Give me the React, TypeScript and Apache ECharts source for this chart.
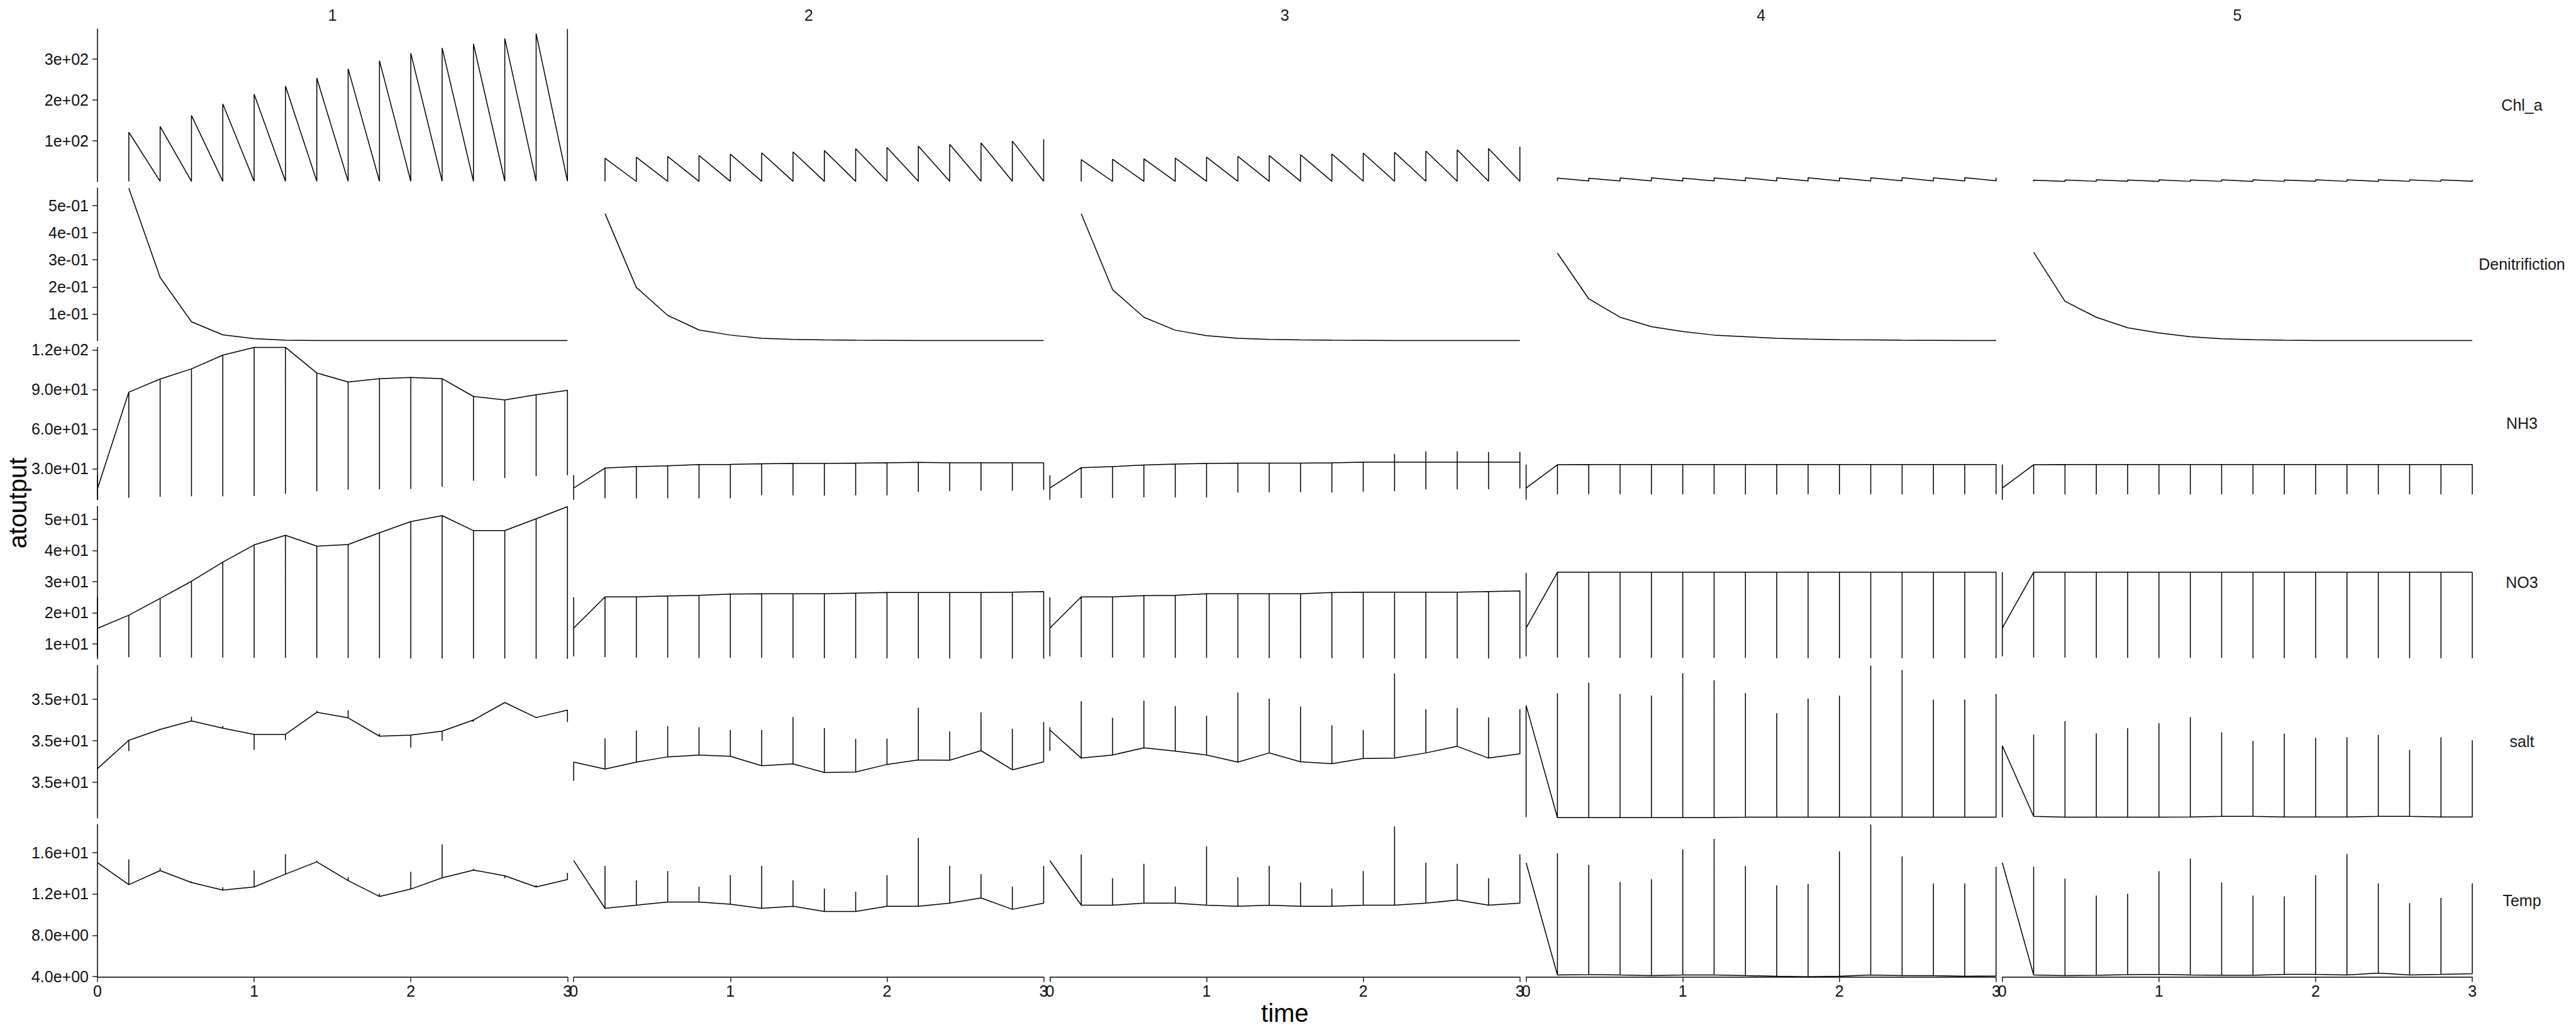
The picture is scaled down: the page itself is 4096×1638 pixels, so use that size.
import React, { useEffect, useRef } from "react";
import * as echarts from "echarts";

// ---------------- data ----------------
const TIME = [0, 0.2, 0.4, 0.6, 0.8, 1, 1.2, 1.4, 1.6, 1.8, 2, 2.2, 2.4, 2.6, 2.8, 3];
const POLYGONS = ["1", "2", "3", "4", "5"];
const VARIABLES = ["Chl_a", "Denitrifiction", "NH3", "NO3", "salt", "Temp"];

// Chl_a: at each time the line goes from the low layer value up to the high one
const CHL_HIGH = [
  [null, 121, 135, 162, 190, 214, 234, 253, 276, 296, 314, 327, 337, 350, 362, 373],
  [null, 57.3, 59.9, 61.7, 64.2, 67.5, 70.8, 73.0, 76.3, 80.7, 83.9, 87.2, 91.6, 94.9, 99.3, 103.6],
  [null, 54, 55, 56, 58, 60, 62, 64, 66, 68, 70, 72, 75, 78, 81, 86],
  [null, 9.0, 8.5, 9.2, 9.5, 9.0, 9.3, 9.6, 9.8, 9.5, 9.2, 9.6, 10.0, 9.7, 10.1, 10.2],
  [null, 4.0, 4.4, 4.5, 4.3, 4.6, 4.4, 4.5, 4.6, 4.4, 4.7, 4.5, 4.6, 4.8, 4.6, 4.7],
];
const CHL_LOW = [
  [null, 0.8, 0.9, 0.9, 1.0, 1.0, 1.0, 1.1, 1.1, 1.1, 1.2, 1.2, 1.2, 1.2, 1.3, 1.3],
  [null, 0.8, 0.8, 0.9, 0.9, 0.9, 1.0, 1.0, 1.0, 1.0, 1.1, 1.1, 1.1, 1.1, 1.2, 1.2],
  [null, 0.8, 0.8, 0.9, 0.9, 0.9, 1.0, 1.0, 1.0, 1.0, 1.1, 1.1, 1.1, 1.1, 1.2, 1.2],
  [null, 2.0, 1.8, 2.1, 2.0, 1.9, 2.0, 2.2, 2.1, 2.0, 1.9, 2.1, 2.2, 2.0, 2.1, 2.2],
  [null, 1.0, 0.9, 1.0, 1.1, 0.9, 1.0, 1.0, 0.9, 1.0, 1.1, 1.0, 0.9, 1.0, 1.0, 1.1],
];

const DEN = [
  [null, 0.565, 0.235, 0.071, 0.023, 0.0088, 0.0033, 0.0017, 0.0017, 0.0017, 0.0017, 0.0017, 0.0017, 0.0017, 0.0017, 0.0017],
  [null, 0.471, 0.198, 0.095, 0.041, 0.022, 0.010, 0.006, 0.004, 0.003, 0.0025, 0.002, 0.002, 0.002, 0.002, 0.002],
  [null, 0.47, 0.19, 0.088, 0.04, 0.02, 0.010, 0.006, 0.004, 0.003, 0.0025, 0.002, 0.002, 0.002, 0.002, 0.002],
  [null, 0.325, 0.156, 0.088, 0.053, 0.035, 0.022, 0.016, 0.010, 0.007, 0.005, 0.004, 0.003, 0.0025, 0.002, 0.002],
  [null, 0.328, 0.147, 0.088, 0.049, 0.030, 0.016, 0.0085, 0.005, 0.003, 0.002, 0.002, 0.002, 0.002, 0.002, 0.002],
];

// for the layered variables: line value, top and bottom of the layer spread (null = same as line)
const NH3_MID = [
  [14.9, 88.0, 97.9, 105.6, 116.0, 121.9, 121.9, 102.5, 95.7, 98.2, 99.1, 98.2, 84.7, 82.1, 86.0, 89.4],
  [15.3, 30.5, 31.6, 32.2, 33.2, 33.3, 33.7, 34.0, 34.0, 34.2, 34.5, 34.8, 34.4, 34.4, 34.5, 34.5],
  [15.3, 30.8, 31.6, 32.8, 33.5, 34.0, 34.2, 34.2, 34.2, 34.5, 34.9, 34.9, 34.9, 34.9, 34.9, 34.9],
  [15.3, 33.0, 33.1, 33.1, 33.1, 33.1, 33.2, 33.2, 33.2, 33.2, 33.2, 33.2, 33.2, 33.2, 33.2, 33.2],
  [15.3, 33.0, 33.1, 33.1, 33.1, 33.1, 33.1, 33.2, 33.2, 33.2, 33.2, 33.2, 33.2, 33.2, 33.2, 33.2],
];
const NH3_MAX = [
  [25, null, null, null, null, null, null, null, null, null, null, null, null, null, null, null],
  [25, null, null, null, null, null, null, null, null, null, null, null, null, null, null, null],
  [25, null, null, null, null, null, null, null, null, null, null, 41.2, 43.1, 43.1, 42.5, 42.5],
  [33.2, null, null, null, null, null, null, null, null, null, null, null, null, null, null, null],
  [33.2, null, null, null, null, null, null, null, null, null, null, null, null, null, null, null],
];
const NH3_MIN = [
  [6.5, 7.9, 8.7, 9.1, 9.1, 9.3, 11.0, 13.0, 14.2, 14.5, 14.7, 16.4, 20.9, 22.9, 24.3, 25.1],
  [6.5, 7.5, 7.5, 7.5, 7.5, 7.6, 9.8, 9.8, 9.6, 9.8, 9.8, 12.5, 13.0, 13.3, 13.3, 13.8],
  [6.5, 7.8, 7.8, 8.3, 8.3, 8.3, 11.9, 12.2, 12.2, 12.0, 12.5, 13.0, 14.3, 14.3, 14.5, 15.0],
  [6.5, 10.6, 10.5, 10.6, 10.4, 10.5, 10.6, 10.5, 10.4, 10.6, 10.5, 10.6, 10.5, 10.4, 10.5, 10.6],
  [6.5, 10.6, 10.5, 10.5, 10.6, 10.4, 10.5, 10.6, 10.5, 10.5, 10.4, 10.6, 10.5, 10.5, 10.6, 10.5],
];

const NO3_MID = [
  [15.0, 19.2, 24.6, 30.1, 36.3, 41.8, 44.9, 41.4, 41.9, 45.7, 49.3, 51.2, 46.4, 46.4, 50.2, 54.1],
  [15.1, 25.1, 25.1, 25.4, 25.6, 26.0, 26.1, 26.1, 26.1, 26.3, 26.5, 26.5, 26.5, 26.5, 26.6, 26.8],
  [15.1, 25.1, 25.1, 25.5, 25.6, 26.1, 26.1, 26.1, 26.1, 26.5, 26.6, 26.6, 26.6, 26.6, 26.8, 27.0],
  [15.1, 33.0, 33.0, 33.0, 33.0, 33.0, 33.0, 33.0, 33.0, 33.0, 33.0, 33.0, 33.0, 33.0, 33.0, 33.0],
  [15.1, 33.0, 33.0, 33.0, 33.0, 33.0, 33.0, 33.0, 33.0, 33.0, 33.0, 33.0, 33.0, 33.0, 33.0, 33.0],
];
const NO3_MAX = [
  [25.0, null, null, null, null, null, null, null, null, null, null, null, null, null, null, null],
  [25.0, null, null, null, null, null, null, null, null, null, null, null, null, null, null, null],
  [25.0, null, null, null, null, null, null, null, null, null, null, null, null, null, null, null],
  [32.8, null, null, null, null, null, null, null, null, null, null, null, null, null, null, null],
  [33.0, null, null, null, null, null, null, null, null, null, null, null, null, null, null, null],
];
const NO3_MIN = [
  [6.0, 5.7, 5.7, 5.6, 5.6, 5.5, 5.5, 5.5, 5.5, 5.4, 5.3, 5.3, 5.3, 5.3, 5.2, 5.2],
  [6.0, 5.7, 5.6, 5.6, 5.5, 5.5, 5.5, 5.5, 5.4, 5.4, 5.4, 5.3, 5.3, 5.3, 5.3, 5.3],
  [6.0, 5.7, 5.6, 5.6, 5.5, 5.5, 5.5, 5.4, 5.4, 5.4, 5.4, 5.3, 5.3, 5.3, 5.3, 5.3],
  [6.0, 5.6, 5.6, 5.5, 5.5, 5.5, 5.5, 5.5, 5.4, 5.4, 5.4, 5.4, 5.4, 5.4, 5.4, 5.4],
  [6.0, 5.6, 5.6, 5.5, 5.5, 5.5, 5.5, 5.5, 5.4, 5.4, 5.4, 5.4, 5.4, 5.4, 5.4, 5.4],
];

const SALT_MID = [
  [34.99729, 35.00003, 35.00108, 35.0019, 35.0012, 35.0006, 35.0006, 35.00274, 35.0022, 35.00043, 35.00053, 35.00092, 35.00199, 35.00368, 35.00223, 35.00295],
  [34.99792, 34.99725, 34.99792, 34.99843, 34.99861, 34.99848, 34.99757, 34.99775, 34.99692, 34.99697, 34.9977, 34.99814, 34.9981, 34.99903, 34.99718, 34.99795],
  [35.00102, 34.99831, 34.99861, 34.9993, 34.99898, 34.99861, 34.99792, 34.99881, 34.99795, 34.99777, 34.99827, 34.99831, 34.99881, 34.99945, 34.99831, 34.99873],
  [35.0034, 34.99256, 34.99256, 34.99256, 34.99256, 34.99256, 34.99256, 34.9926, 34.9926, 34.9926, 34.9926, 34.9926, 34.9926, 34.9926, 34.9926, 34.9926],
  [34.9995, 34.99268, 34.9926, 34.9926, 34.9926, 34.9926, 34.99262, 34.99268, 34.99268, 34.99262, 34.99262, 34.99262, 34.99268, 34.99268, 34.99262, 34.99262],
];
const SALT_MAX = [
  [null, null, 35.00115, 35.00231, 35.00141, null, null, 35.00288, 35.00293, 35.00069, null, null, 35.00205, null, 35.0023, null],
  [null, 35.00022, 35.00097, 35.00141, 35.00129, 35.00102, 35.00102, 35.00228, 35.00122, 35.00015, 35.0002, 35.00318, 35.00089, 35.00274, 35.00114, 35.00179],
  [35.0013, 35.00382, 35.00221, 35.00387, 35.00335, 35.00241, 35.00466, 35.00405, 35.00328, 35.00147, 35.00102, 35.00648, 35.00305, 35.00315, 35.00224, 35.00305],
  [null, 35.0046, 35.00559, 35.00452, 35.00435, 35.00651, 35.00584, 35.0046, 35.00266, 35.00407, 35.00435, 35.00725, 35.00683, 35.00395, 35.00397, 35.00452],
  [null, 35.0006, 35.00189, 35.0007, 35.0012, 35.00167, 35.00226, 35.0008, 34.99998, 35.00067, 35.00028, 35.00033, 35.00055, 34.99911, 35.00033, 35.00003],
];
const SALT_MIN = [
  [null, 34.99899, null, null, null, 34.99911, 35.00007, null, null, null, 34.99932, 34.99997, 35.00185, null, 35.00218, 35.0018],
  [34.99613, null, null, null, null, null, null, null, null, null, null, null, null, null, null, null],
  [34.999, null, null, null, null, null, null, null, null, null, null, null, null, null, null, null],
  [34.9926, null, null, null, null, null, null, null, null, null, null, null, null, null, null, null],
  [34.9926, null, null, null, null, null, null, null, null, null, null, null, null, null, null, null],
];

const TEMP_MID = [
  [15.01, 12.88, 14.24, 13.09, 12.36, 12.66, 13.9, 15.08, 13.28, 11.74, 12.46, 13.54, 14.29, 13.74, 12.66, 13.38],
  [15.2, 10.6, 10.9, 11.2, 11.2, 11.0, 10.6, 10.8, 10.3, 10.3, 10.8, 10.8, 11.1, 11.6, 10.5, 11.1],
  [15.2, 10.9, 10.9, 11.1, 11.1, 10.9, 10.8, 10.9, 10.8, 10.8, 10.9, 10.9, 11.1, 11.4, 10.9, 11.1],
  [15.0, 4.16, 4.2, 4.16, 4.1, 4.16, 4.16, 4.1, 4.05, 4.0, 4.05, 4.16, 4.1, 4.1, 4.05, 4.08],
  [15.0, 4.16, 4.1, 4.13, 4.2, 4.22, 4.16, 4.13, 4.13, 4.22, 4.22, 4.16, 4.35, 4.16, 4.22, 4.28],
];
const TEMP_MAX = [
  [null, 15.32, 14.5, 13.2, 12.63, 14.26, 15.84, 15.2, 13.6, 12.03, 14.12, 16.78, 14.4, null, 12.85, 14.03],
  [null, 14.7, 13.3, 14.2, 12.7, 13.8, 14.7, 13.3, 12.5, 12.2, 13.8, 17.4, 14.7, 13.9, 12.7, 14.7],
  [null, 15.8, 13.5, 14.9, 12.7, 16.6, 13.6, 14.7, 13.1, 12.5, 14.2, 18.5, 15.0, 14.9, 13.5, 15.8],
  [null, 15.92, 14.8, 13.15, 13.4, 16.29, 17.3, 14.7, 12.82, 12.95, 16.09, 18.69, 15.6, 13.0, 13.0, 14.6],
  [null, 14.6, 13.47, 11.83, 12.0, 14.18, 15.4, 13.1, 11.83, 11.75, 13.8, 15.84, 13.0, 11.1, 11.6, 13.0],
];
const TEMP_MIN = [
  [null, null, null, null, null, null, null, null, null, null, null, null, null, 13.5, null, null],
  [null, null, null, null, null, null, null, null, null, null, null, null, null, null, null, null],
  [null, null, null, null, null, null, null, null, null, null, null, null, null, null, null, null],
  [null, null, null, null, null, null, null, null, null, null, null, null, null, null, null, null],
  [null, null, null, null, null, null, null, null, null, null, null, null, null, null, null, null],
];

// y domains (data range per row) and tick labels
const Y_MIN = [0.5, 0.0015, 6.5, 5.2, 34.99253, 3.97];
const Y_MAX = [373, 0.565, 122, 54.2, 35.00727, 18.69];
const Y_TICKS = [
  [100, 200, 300],
  [0.1, 0.2, 0.3, 0.4, 0.5],
  [30, 60, 90, 120],
  [10, 20, 30, 40, 50],
  [34.996, 35.0, 35.004],
  [4, 8, 12, 16],
];
const Y_TICK_LABELS = [
  ["1e+02", "2e+02", "3e+02"],
  ["1e-01", "2e-01", "3e-01", "4e-01", "5e-01"],
  ["3.0e+01", "6.0e+01", "9.0e+01", "1.2e+02"],
  ["1e+01", "2e+01", "3e+01", "4e+01", "5e+01"],
  ["3.5e+01", "3.5e+01", "3.5e+01"],
  ["4.0e+00", "8.0e+00", "1.2e+01", "1.6e+01"],
];

// ---------------- helpers ----------------
function sawPath(low: (number | null)[], high: (number | null)[]) {
  const pts: number[][] = [];
  TIME.forEach((t, i) => {
    const lo = low[i];
    const hi = high[i];
    if (lo == null || hi == null) return;
    pts.push([t, lo], [t, hi]);
  });
  return pts;
}
function singlePath(v: (number | null)[]) {
  const pts: number[][] = [];
  TIME.forEach((t, i) => {
    if (v[i] == null) return;
    pts.push([t, v[i] as number]);
  });
  return pts;
}
function layerPath(mid: (number | null)[], mx: (number | null)[], mn: (number | null)[]) {
  const pts: number[][] = [];
  TIME.forEach((t, i) => {
    const m = mid[i];
    if (m == null) return;
    const hi = mx[i] == null ? m : (mx[i] as number);
    const lo = mn[i] == null ? m : (mn[i] as number);
    pts.push([t, m]);
    if (hi !== m) pts.push([t, hi], [t, m]);
    if (lo !== m) pts.push([t, lo], [t, m]);
  });
  return pts;
}

const FONT = '"Liberation Sans", Arial, Helvetica, sans-serif';
const W = 4096;
const H = 1638;
const LEFT0 = 155;
const COL_STEP = 757.2;
const COL_W = 747.3;
const TOP0 = 46.2;
const ROW_STEP = 253.0;
const ROW_H = 242.5;
const LW = 1.5;

export default function App() {
  const ref = useRef<HTMLDivElement>(null);
  useEffect(() => {
    document.body.style.margin = "0";
    if (!ref.current) return;
    const chart = echarts.init(ref.current, undefined, { renderer: "svg", width: W, height: H });

    const paths: number[][][][] = [
      POLYGONS.map((_, c) => sawPath(CHL_LOW[c], CHL_HIGH[c])),
      POLYGONS.map((_, c) => singlePath(DEN[c])),
      POLYGONS.map((_, c) => layerPath(NH3_MID[c], NH3_MAX[c], NH3_MIN[c])),
      POLYGONS.map((_, c) => layerPath(NO3_MID[c], NO3_MAX[c], NO3_MIN[c])),
      POLYGONS.map((_, c) => layerPath(SALT_MID[c], SALT_MAX[c], SALT_MIN[c])),
      POLYGONS.map((_, c) => layerPath(TEMP_MID[c], TEMP_MAX[c], TEMP_MIN[c])),
    ];

    const grids: any[] = [];
    const xAxes: any[] = [];
    const yAxes: any[] = [];
    const series: any[] = [];
    const nRows = VARIABLES.length;

    VARIABLES.forEach((_, r) => {
      POLYGONS.forEach((_, c) => {
        const idx = grids.length;
        grids.push({
          left: LEFT0 + c * COL_STEP,
          top: TOP0 + r * ROW_STEP,
          width: COL_W,
          height: ROW_H,
          containLabel: false,
        });
        const bottom = r === nRows - 1;
        xAxes.push({
          type: "value",
          gridIndex: idx,
          min: 0,
          max: 3,
          interval: 1,
          show: bottom,
          axisLine: { show: bottom, onZero: false, lineStyle: { color: "#000", width: LW } },
          axisTick: { show: bottom, length: 8, lineStyle: { color: "#222", width: LW } },
          axisLabel: {
            show: bottom,
            margin: 10,
            fontSize: 25,
            fontFamily: FONT,
            color: "#111",
            showMinLabel: true,
            showMaxLabel: true,
            formatter: (v: number) => String(Math.round(v)),
          },
          splitLine: { show: false },
        });
        const ticks = Y_TICKS[r];
        const labels = Y_TICK_LABELS[r];
        const left = c === 0;
        yAxes.push({
          type: "value",
          gridIndex: idx,
          min: Y_MIN[r],
          max: Y_MAX[r],
          show: left,
          axisLine: { show: left, onZero: false, lineStyle: { color: "#000", width: LW } },
          axisTick: { show: left, length: 8, customValues: ticks, lineStyle: { color: "#222", width: LW } },
          axisLabel: {
            show: left,
            customValues: ticks,
            margin: 14,
            fontSize: 25,
            fontFamily: FONT,
            color: "#111",
            formatter: (v: number) => {
              let best = 0;
              let bd = Infinity;
              ticks.forEach((tv, k) => {
                const d = Math.abs(tv - v);
                if (d < bd) {
                  bd = d;
                  best = k;
                }
              });
              return labels[best];
            },
          },
          splitLine: { show: false },
        });
        series.push({
          type: "line",
          xAxisIndex: idx,
          yAxisIndex: idx,
          data: paths[r][c],
          symbol: "none",
          showSymbol: false,
          clip: false,
          silent: true,
          lineStyle: { color: "#000", width: LW },
        });
      });
    });

    const graphics: any[] = [];
    POLYGONS.forEach((p, c) => {
      graphics.push({
        type: "text",
        x: LEFT0 + c * COL_STEP + COL_W / 2,
        y: 23.5,
        style: { text: p, fontSize: 25, fontFamily: FONT, fill: "#1a1a1a", align: "center", verticalAlign: "middle" },
      });
    });
    VARIABLES.forEach((v, r) => {
      graphics.push({
        type: "text",
        x: 4010,
        y: TOP0 + r * ROW_STEP + ROW_H / 2,
        style: { text: v, fontSize: 25, fontFamily: FONT, fill: "#1a1a1a", align: "center", verticalAlign: "middle" },
      });
    });
    graphics.push({
      type: "text",
      x: LEFT0 + (4 * COL_STEP + COL_W) / 2,
      y: 1611,
      style: { text: "time", fontSize: 40, fontFamily: FONT, fill: "#000", align: "center", verticalAlign: "middle" },
    });
    graphics.push({
      type: "text",
      x: 28,
      y: TOP0 + (5 * ROW_STEP + ROW_H) / 2,
      rotation: Math.PI / 2,
      style: { text: "atoutput", fontSize: 40, fontFamily: FONT, fill: "#000", align: "center", verticalAlign: "middle" },
    });

    chart.setOption({
      animation: false,
      backgroundColor: "#fff",
      grid: grids,
      xAxis: xAxes,
      yAxis: yAxes,
      series,
      graphic: graphics,
    });
    return () => chart.dispose();
  }, []);
  return <div ref={ref} style={{ width: W, height: H }} />;
}
